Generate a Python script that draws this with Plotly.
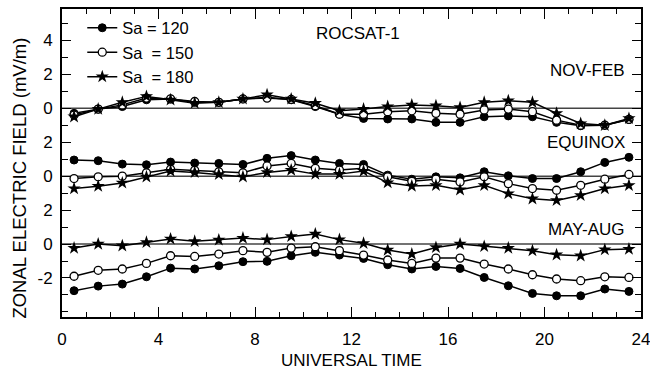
import plotly.graph_objects as go

# Universal time (hours)
ut = [0.5 + i for i in range(24)]

# NOV-FEB season
nov_120 = [-0.3, -0.05, 0.1, 0.5, 0.55, 0.35, 0.35, 0.55, 0.65, 0.5, 0.1, -0.35,
           -0.6, -0.63, -0.63, -0.83, -0.83, -0.5, -0.45, -0.5, -0.83, -1.03, -1.0, -0.67]
nov_150 = [-0.4, -0.05, 0.2, 0.6, 0.55, 0.4, 0.35, 0.55, 0.6, 0.52, 0.15, -0.35,
           -0.35, -0.2, -0.15, -0.3, -0.35, -0.1, -0.05, -0.2, -0.7, -1.0, -1.0, -0.65]
nov_180 = [-0.5, -0.05, 0.35, 0.7, 0.5, 0.3, 0.35, 0.55, 0.8, 0.55, 0.3, -0.15,
           -0.05, 0.1, 0.2, 0.15, 0.05, 0.35, 0.45, 0.35, -0.3, -0.9, -1.0, -0.6]

# EQUINOX season
eq_120 = [0.95, 0.91, 0.71, 0.67, 0.83, 0.77, 0.75, 0.69, 1.05, 1.21, 0.95, 0.75,
          0.69, 0.06, -0.18, -0.04, -0.1, 0.26, 0.02, -0.14, -0.14, 0.26, 0.81, 1.11]
eq_150 = [-0.14, -0.04, 0.0, 0.2, 0.4, 0.34, 0.26, 0.2, 0.6, 0.75, 0.46, 0.36,
          0.46, -0.04, -0.3, -0.18, -0.34, -0.04, -0.44, -0.73, -0.83, -0.54, -0.18, 0.1]
eq_180 = [-0.73, -0.59, -0.4, -0.04, 0.3, 0.22, 0.1, -0.04, 0.22, 0.36, 0.12, 0.12,
          0.3, -0.38, -0.58, -0.54, -0.8, -0.54, -1.03, -1.33, -1.43, -1.13, -0.73, -0.54]

# MAY-AUG season
may_120 = [-2.75, -2.48, -2.36, -1.93, -1.42, -1.47, -1.28, -1.04, -1.02, -0.69, -0.49, -0.65,
           -0.85, -1.22, -1.47, -1.32, -1.44, -1.97, -2.46, -2.91, -3.05, -3.05, -2.65, -2.79]
may_150 = [-1.9, -1.55, -1.47, -1.14, -0.69, -0.73, -0.59, -0.39, -0.49, -0.24, -0.16, -0.39,
           -0.65, -0.94, -1.14, -0.83, -0.83, -1.18, -1.47, -1.81, -2.06, -2.16, -1.93, -1.97]
may_180 = [-0.24, 0.0, -0.1, 0.1, 0.3, 0.16, 0.24, 0.35, 0.26, 0.45, 0.59, 0.26,
           0.04, -0.35, -0.59, -0.2, 0.0, -0.14, -0.24, -0.39, -0.63, -0.69, -0.33, -0.3]

series_names = ["Sa = 120", "Sa \u00a0= 150", "Sa \u00a0= 180"]
season_names = ["NOV-FEB", "EQUINOX", "MAY-AUG"]
season_offsets = [8, 4, 0]
season_data = [
    [nov_120, nov_150, nov_180],
    [eq_120, eq_150, eq_180],
    [may_120, may_150, may_180],
]

y_tickvals = [-2, 0, 2, 4, 6, 8, 10, 12]
y_ticktext = ["-2", "0", "2", "0", "2", "0", "2", "4"]
x_tickvals = [0, 4, 8, 12, 16, 20, 24]

FONT = "Liberation Sans, Arial, sans-serif"

marker_styles = [
    dict(symbol="circle", size=8, color="black", line=dict(color="black", width=1)),
    dict(symbol="circle", size=8, color="white", line=dict(color="black", width=1.3)),
    dict(symbol="star", size=10, color="black", line=dict(color="black", width=0)),
]

fig = go.Figure()

for si, (sname, off, data) in enumerate(zip(season_names, season_offsets, season_data)):
    for k in range(3):
        fig.add_trace(go.Scatter(
            x=ut,
            y=[v + off for v in data[k]],
            mode="lines+markers",
            name=series_names[k],
            legendgroup=series_names[k],
            showlegend=(si == 0),
            line=dict(color="black", width=1.5),
            marker=marker_styles[k],
        ))
    # zero reference line for each season
    fig.add_shape(type="line", x0=0, x1=24, y0=off, y1=off, xref="x", yref="y",
                  line=dict(color="#444444", width=1.5), layer="below")

# season labels
label_pos = {"NOV-FEB": 10.22, "EQUINOX": 6.0, "MAY-AUG": 0.84}
for sname in season_names:
    fig.add_annotation(x=0.9755, xref="paper", y=label_pos[sname], yref="y",
                       text=sname, showarrow=False, xanchor="right", yanchor="middle",
                       font=dict(family=FONT, size=17, color="black"))

fig.add_annotation(x=12.25, xref="x", y=12.39, yref="y", text="ROCSAT-1", showarrow=False,
                   xanchor="center", yanchor="middle",
                   font=dict(family=FONT, size=17, color="black"))

# axis titles
fig.add_annotation(x=0.5, xref="paper", y=-0.141, yref="paper", text="UNIVERSAL TIME",
                   showarrow=False, xanchor="center", yanchor="middle",
                   font=dict(family=FONT, size=17, color="black"))
fig.add_annotation(x=-0.0734, xref="paper", y=0.451, yref="paper",
                   text="ZONAL ELECTRIC FIELD (mV/m)", textangle=-90,
                   showarrow=False, xanchor="center", yanchor="middle",
                   font=dict(family=FONT, size=18.5, color="black"))

fig.update_xaxes(
    range=[0, 24], tickvals=x_tickvals, ticks="inside", ticklen=10, tickwidth=1.3,
    tickcolor="black", minor=dict(dtick=1, ticks="inside", ticklen=5, tickwidth=1.3,
                                  tickcolor="black", showgrid=False),
    showline=True, linecolor="black", linewidth=1.8, mirror="ticks",
    showgrid=False, zeroline=False, ticklabelstandoff=6, automargin=False,
    ticklabeloverflow="allow",
    tickfont=dict(family=FONT, size=17, color="black"),
)
fig.update_yaxes(
    range=[-4.3, 13.85], tickvals=y_tickvals, ticktext=y_ticktext, ticks="inside",
    ticklen=9, tickwidth=1.3, tickcolor="black",
    minor=dict(dtick=1, ticks="inside", ticklen=6, tickwidth=1.3, tickcolor="black",
               showgrid=False),
    showline=True, linecolor="black", linewidth=1.8, mirror="ticks",
    showgrid=False, zeroline=False, ticklabelstandoff=4, automargin=False,
    ticklabeloverflow="allow",
    tickfont=dict(family=FONT, size=17, color="black"),
)

fig.update_layout(
    width=650, height=373,
    margin=dict(l=62, r=9, t=9, b=56, autoexpand=False),
    plot_bgcolor="white", paper_bgcolor="white",
    font=dict(family=FONT, size=17, color="black"),
    legend=dict(x=0.035, y=0.995, xanchor="left", yanchor="top",
                bgcolor="rgba(0,0,0,0)", borderwidth=0, tracegroupgap=0,
                font=dict(family=FONT, size=16.5, color="black")),
    showlegend=True,
)

fig.write_html("out.html")
